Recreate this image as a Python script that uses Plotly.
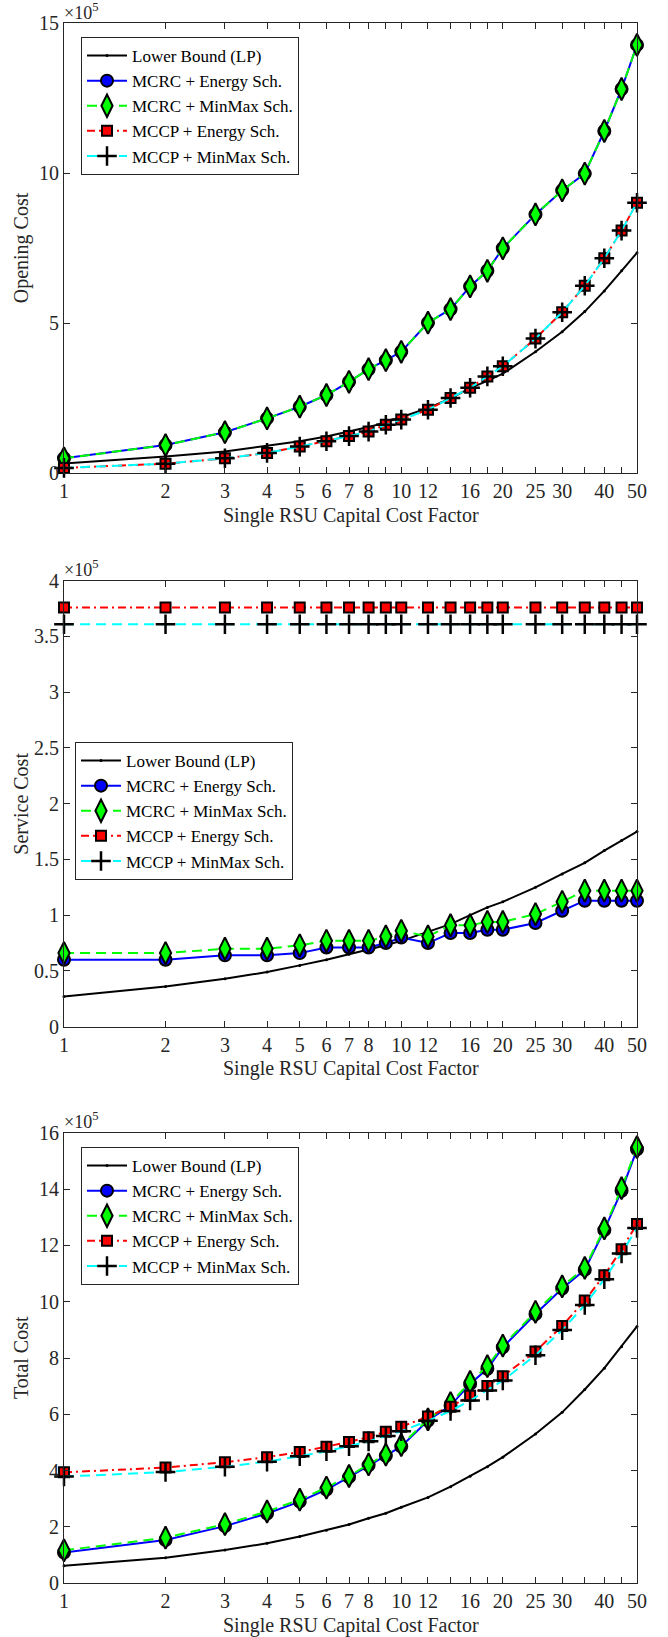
import math
import plotly.graph_objects as go

# Capital cost factor (x values shared by all panels)
cost_factor = [1, 2, 3, 4, 5, 6, 7, 8, 9, 10, 12, 14, 16, 18, 20, 25, 30, 35, 40, 45, 50]
labeled_ticks = [1, 2, 3, 4, 5, 6, 7, 8, 10, 12, 16, 20, 25, 30, 40, 50]
unlabeled_ticks = [9, 14, 18, 35, 45]

series_names = ["Lower Bound (LP)", "MCRC + Energy Sch.", "MCRC + MinMax Sch.",
                "MCCP + Energy Sch.", "MCCP + MinMax Sch."]

# Opening cost (x 1e5)
opening_lp = [0.33, 0.56, 0.73, 0.91, 1.07, 1.23, 1.39, 1.54, 1.70, 1.87, 2.17, 2.50, 2.84,
              3.08, 3.32, 4.05, 4.72, 5.39, 6.08, 6.75, 7.35]
opening_mcrc_energy = [0.50, 0.94, 1.37, 1.83, 2.22, 2.61, 3.05, 3.47, 3.77, 4.05, 5.02, 5.47,
                       6.23, 6.75, 7.50, 8.63, 9.43, 9.99, 11.41, 12.81, 14.28]
opening_mcrc_minmax = [0.50, 0.94, 1.37, 1.83, 2.22, 2.61, 3.05, 3.47, 3.77, 4.05, 5.02, 5.47,
                       6.23, 6.75, 7.50, 8.63, 9.43, 9.99, 11.41, 12.81, 14.28]
opening_mccp_energy = [0.18, 0.32, 0.50, 0.68, 0.89, 1.07, 1.24, 1.39, 1.62, 1.79, 2.12, 2.51,
                       2.85, 3.23, 3.57, 4.49, 5.37, 6.25, 7.17, 8.09, 9.02]
opening_mccp_minmax = [0.18, 0.32, 0.50, 0.68, 0.89, 1.07, 1.24, 1.39, 1.62, 1.79, 2.12, 2.51,
                       2.85, 3.23, 3.57, 4.49, 5.37, 6.25, 7.17, 8.09, 9.02]

# Service cost (x 1e5)
service_lp = [0.27, 0.36, 0.43, 0.49, 0.55, 0.60, 0.65, 0.69, 0.73, 0.77, 0.85, 0.92, 1.00,
              1.07, 1.12, 1.25, 1.37, 1.47, 1.58, 1.67, 1.75]
service_mcrc_energy = [0.60, 0.60, 0.64, 0.64, 0.66, 0.71, 0.71, 0.71, 0.75, 0.80, 0.75, 0.84,
                       0.84, 0.87, 0.87, 0.93, 1.04, 1.13, 1.13, 1.13, 1.13]
service_mcrc_minmax = [0.66, 0.66, 0.70, 0.70, 0.73, 0.77, 0.77, 0.77, 0.81, 0.86, 0.81, 0.91,
                       0.91, 0.94, 0.94, 1.01, 1.12, 1.22, 1.22, 1.22, 1.22]
service_mccp_energy = [3.76, 3.76, 3.76, 3.76, 3.76, 3.76, 3.76, 3.76, 3.76, 3.76, 3.76, 3.76,
                       3.76, 3.76, 3.76, 3.76, 3.76, 3.76, 3.76, 3.76, 3.76]
service_mccp_minmax = [3.61, 3.61, 3.61, 3.61, 3.61, 3.61, 3.61, 3.61, 3.61, 3.61, 3.61, 3.61,
                       3.61, 3.61, 3.61, 3.61, 3.61, 3.61, 3.61, 3.61, 3.61]

# Total cost (x 1e5)
total_lp = [0.62, 0.91, 1.18, 1.42, 1.66, 1.88, 2.09, 2.31, 2.49, 2.70, 3.05, 3.43, 3.80,
            4.14, 4.48, 5.30, 6.07, 6.88, 7.64, 8.40, 9.12]
total_mcrc_energy = [1.09, 1.54, 2.03, 2.48, 2.90, 3.33, 3.77, 4.19, 4.53, 4.86, 5.78, 6.31,
                     7.08, 7.62, 8.38, 9.56, 10.47, 11.13, 12.54, 13.94, 15.41]
total_mcrc_minmax = [1.17, 1.62, 2.10, 2.55, 2.97, 3.40, 3.81, 4.22, 4.57, 4.91, 5.82, 6.40,
                     7.15, 7.71, 8.44, 9.64, 10.54, 11.20, 12.60, 14.03, 15.49]
total_mccp_energy = [3.94, 4.11, 4.30, 4.48, 4.66, 4.85, 5.02, 5.19, 5.38, 5.56, 5.92, 6.27,
                     6.66, 7.01, 7.35, 8.23, 9.14, 10.04, 10.94, 11.86, 12.76]
total_mccp_minmax = [3.79, 3.95, 4.14, 4.32, 4.51, 4.69, 4.87, 5.04, 5.23, 5.40, 5.77, 6.12,
                     6.49, 6.85, 7.20, 8.10, 8.99, 9.88, 10.80, 11.71, 12.62]

W, H = 668, 1637
FONT = "Liberation Serif"
FS = 20          # tick labels and axis titles
FS_LEGEND = 17
INK = "#262626"

# Trace styles: line + marker for each series
styles = [
    dict(line=dict(color="black", width=2),
         marker=dict(symbol="circle", size=3, color="black")),
    dict(line=dict(color="#0000ff", width=2),
         marker=dict(symbol="circle", size=12, color="#0000ff",
                     line=dict(color="black", width=2))),
    dict(line=dict(color="#00ff00", width=2, dash="10px,6px"),
         marker=dict(symbol="diamond-tall", size=16, color="#00ff00",
                     line=dict(color="black", width=2))),
    dict(line=dict(color="#ff0000", width=2, dash="8px,4px,2px,4px"),
         marker=dict(symbol="square", size=10, color="#ff0000",
                     line=dict(color="black", width=2))),
    dict(line=dict(color="#00ffff", width=2, dash="10px,6px"),
         marker=dict(symbol="cross-thin", size=14, color="black",
                     line=dict(color="black", width=2.5))),
]

panels = [
    dict(data=[opening_lp, opening_mcrc_energy, opening_mcrc_minmax,
               opening_mccp_energy, opening_mccp_minmax],
         top=23.3, bottom=473.3, yrange=[0, 15], ytick=[0, 5, 10, 15],
         ytext=["0", "5", "10", "15"], title="Opening Cost",
         legend=dict(left=81, top=37)),
    dict(data=[service_lp, service_mcrc_energy, service_mcrc_minmax,
               service_mccp_energy, service_mccp_minmax],
         top=580.7, bottom=1026.7, yrange=[0, 4],
         ytick=[0, 0.5, 1, 1.5, 2, 2.5, 3, 3.5, 4],
         ytext=["0", "0.5", "1", "1.5", "2", "2.5", "3", "3.5", "4"], title="Service Cost",
         legend=dict(left=75, top=742)),
    dict(data=[total_lp, total_mcrc_energy, total_mcrc_minmax,
               total_mccp_energy, total_mccp_minmax],
         top=1132.7, bottom=1583.3, yrange=[0, 16],
         ytick=[0, 2, 4, 6, 8, 10, 12, 14, 16],
         ytext=["0", "2", "4", "6", "8", "10", "12", "14", "16"], title="Total Cost",
         legend=dict(left=81, top=1147)),
]

x_left, x_right = 64, 637

fig = go.Figure()
layout = dict(width=W, height=H, margin=dict(l=0, r=0, t=0, b=0),
              paper_bgcolor="white", plot_bgcolor="white",
              font=dict(family=FONT, size=FS, color=INK), annotations=[])

for i, p in enumerate(panels):
    k = "" if i == 0 else str(i + 1)
    leg = "legend" + k
    for j, (name, ys) in enumerate(zip(series_names, p["data"])):
        st = styles[j]
        fig.add_trace(go.Scatter(
            x=cost_factor, y=ys, name=name, mode="lines+markers",
            line=st["line"], marker=st["marker"], cliponaxis=False,
            xaxis="x" + k, yaxis="y" + k, legend=leg, showlegend=True))

    axis_common = dict(showline=True, linecolor=INK, linewidth=1, mirror="ticks",
                       ticks="inside", ticklen=6, tickcolor=INK, tickwidth=1,
                       showgrid=False, zeroline=False, automargin=False,
                       tickfont=dict(family=FONT, size=FS, color=INK))
    layout["xaxis" + k] = dict(
        axis_common, type="log", range=[0, math.log10(50) + 1e-9],
        domain=[x_left / W, x_right / W], anchor="y" + k,
        tickmode="array", tickvals=labeled_ticks,
        ticktext=[str(v) for v in labeled_ticks],
        minor=dict(tickmode="array", tickvals=unlabeled_ticks, ticks="inside",
                   ticklen=6, tickcolor=INK, tickwidth=1, showgrid=False))
    layout["yaxis" + k] = dict(
        axis_common, range=p["yrange"],
        domain=[1 - p["bottom"] / H, 1 - p["top"] / H], anchor="x" + k,
        tickmode="array", tickvals=p["ytick"], ticktext=p["ytext"])

    layout[leg] = dict(
        x=p["legend"]["left"] / W, y=1 - p["legend"]["top"] / H,
        xanchor="left", yanchor="top", bgcolor="white",
        bordercolor=INK, borderwidth=1, itemwidth=40, tracegroupgap=0,
        font=dict(family=FONT, size=FS_LEGEND, color="black"))

    mid_y = 1 - (p["top"] + p["bottom"]) / 2 / H
    layout["annotations"] += [
        dict(text=p["title"], xref="paper", yref="paper", x=21 / W, y=mid_y,
             textangle=-90, showarrow=False, xanchor="center", yanchor="middle",
             font=dict(family=FONT, size=FS, color=INK)),
        dict(text="Single RSU Capital Cost Factor", xref="paper", yref="paper",
             x=(x_left + x_right) / 2 / W, y=1 - (p["bottom"] + 42) / H,
             showarrow=False, xanchor="center", yanchor="middle",
             font=dict(family=FONT, size=FS, color=INK)),
        dict(text="×10<sup>5</sup>", xref="paper", yref="paper",
             x=(x_left - 1) / W, y=1 - (p["top"] - 12) / H, showarrow=False,
             xanchor="left", yanchor="middle", borderpad=0,
             font=dict(family=FONT, size=18, color=INK)),
    ]

fig.update_layout(**layout)
fig.write_html("out.html")
